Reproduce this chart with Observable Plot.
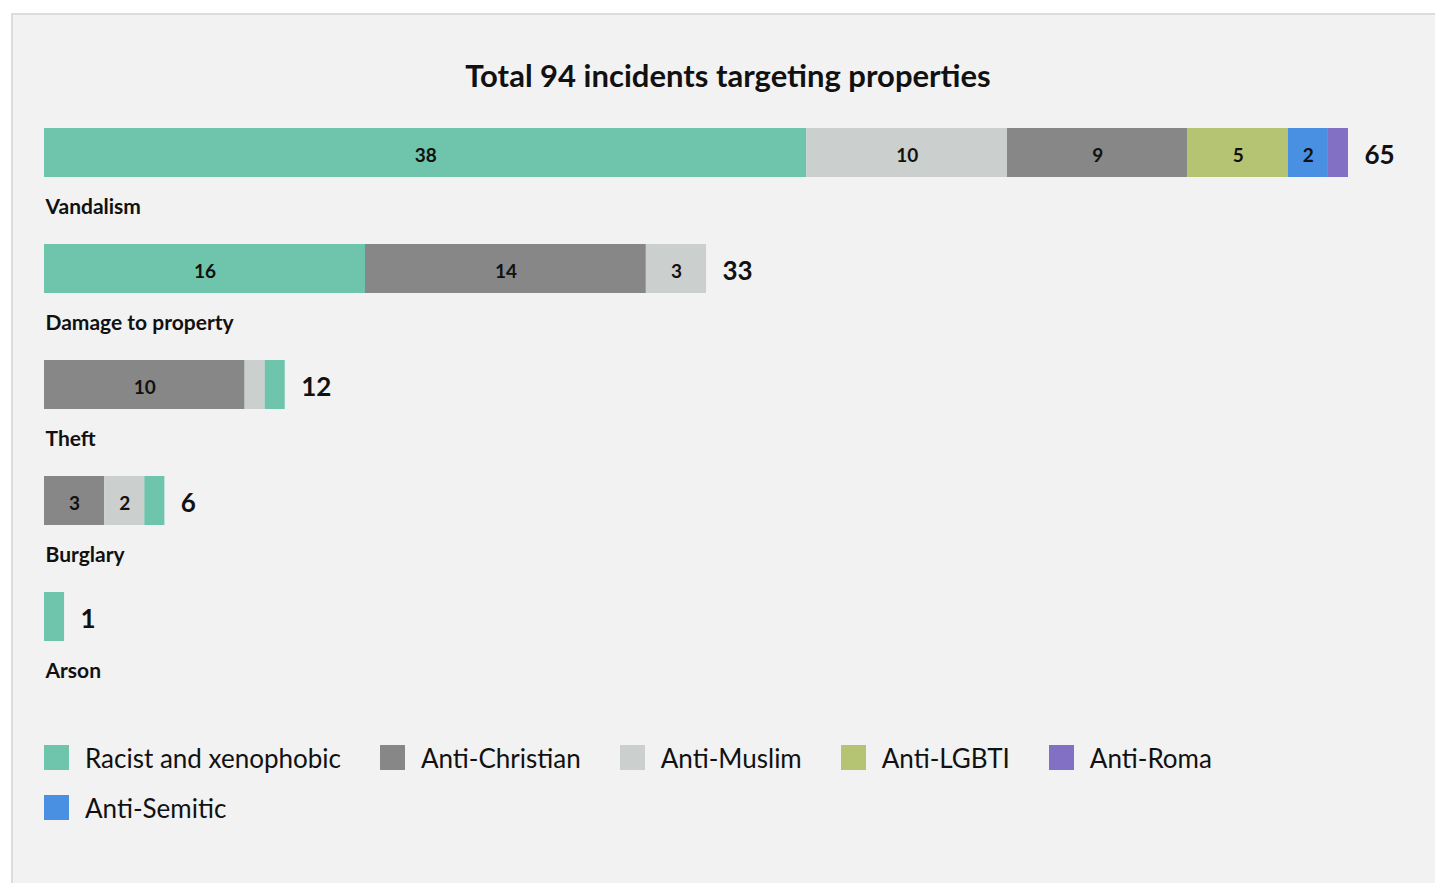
<!DOCTYPE html>
<html>
<head>
<meta charset="utf-8">
<script src="https://cdn.jsdelivr.net/npm/d3@7"></script>
<script src="https://cdn.jsdelivr.net/npm/@observablehq/plot@0.6"></script>
<style>
  html, body { margin: 0; padding: 0; background: #ffffff; width: 1435px; height: 883px; overflow: hidden; font-family: Lato, "Noto Sans", sans-serif; }
  #panel { position: absolute; left: 11px; top: 13px; width: 1440px; height: 890px; background: #f2f2f2; border-left: 2px solid #dcdcdc; border-top: 2px solid #dcdcdc; }
  #title { position: absolute; left: 13px; width: 1430px; top: 55px; text-align: center; font-size: 31px; font-weight: 700; color: #111; line-height: 40px; }
  #chart { position: absolute; left: 0; top: 100px; }
  #legend { position: absolute; left: 44px; top: 740px; width: 1190px; display: flex; flex-wrap: wrap; column-gap: 39px; row-gap: 15px; }
  .item { display: flex; align-items: center; height: 35px; font-size: 26px; color: #111; }
  .sw { width: 25px; height: 25px; margin-right: 16px; }
</style>
</head>
<body>
<div id="panel"></div>
<div id="title">Total 94 incidents targeting properties</div>
<div id="chart"></div>
<div id="legend"></div>
<script>
const categories = ["Vandalism", "Damage to property", "Theft", "Burglary", "Arson"];
const series = ["Racist and xenophobic", "Anti-Christian", "Anti-Muslim", "Anti-LGBTI", "Anti-Roma", "Anti-Semitic"];
const colors = ["#6fc5ac", "#878787", "#cbcfce", "#b4c472", "#8270c4", "#4a90e2"];
// values per series, in category order
const racist    = [38, 16, 1, 1, 1];
const christian = [9, 14, 10, 3, 0];
const muslim    = [10, 3, 1, 2, 0];
const lgbti     = [5, 0, 0, 0, 0];
const roma      = [1, 0, 0, 0, 0];
const semitic   = [2, 0, 0, 0, 0];
// tie-break order when two segments in a bar have equal values
const tieOrder = ["Anti-Christian", "Anti-Muslim", "Anti-LGBTI", "Anti-Semitic", "Anti-Roma", "Racist and xenophobic"];

const seriesValues = [racist, christian, muslim, lgbti, roma, semitic];
let rows = [];
categories.forEach((c, ci) => {
  const r = [];
  series.forEach((s, si) => {
    const v = seriesValues[si][ci];
    if (v > 0) r.push({category: c, series: s, value: v});
  });
  r.sort((a, b) => (b.value - a.value) || (tieOrder.indexOf(a.series) - tieOrder.indexOf(b.series)));
  rows = rows.concat(r);
});
const totals = categories.map(c => ({category: c, total: d3.sum(rows.filter(r => r.category === c), r => r.value)}));

const chart = Plot.plot({
  width: 1435,
  height: 600,
  marginLeft: 44,
  marginRight: 87,
  marginTop: 0,
  marginBottom: 0,
  style: {background: "transparent", fontFamily: "Lato, 'Noto Sans', sans-serif", color: "#111"},
  x: {domain: [0, 65], axis: null},
  y: {domain: categories, range: [28, 543], paddingInner: 0.5794, paddingOuter: 0, align: 0, axis: null},
  color: {domain: series, range: colors},
  marks: [
    Plot.barX(rows, Plot.stackX({x: "value", y: "category", fill: "series", order: null})),
    Plot.text(rows, Plot.stackX({x: "value", y: "category", order: null, dy: 2.5,
      text: d => d.value >= 2 ? d.value : "", fontSize: 19, fontWeight: 700, fill: "#111"})),
    Plot.text(totals, {x: "total", y: "category", text: "total", textAnchor: "start", dx: 16, dy: 3, fontSize: 26, fontWeight: 700, fill: "#111"}),
    Plot.text(categories, {x: () => 0, y: d => d, text: d => d, textAnchor: "start", dx: 1, dy: 54.5, fontSize: 21, fontWeight: 700, fill: "#111"})
  ]
});
document.getElementById("chart").appendChild(chart);

const legend = document.getElementById("legend");
series.forEach((s, i) => {
  const it = document.createElement("div");
  it.className = "item";
  const sw = document.createElement("div");
  sw.className = "sw";
  sw.style.background = colors[i];
  it.appendChild(sw);
  const t = document.createElement("span");
  t.textContent = s;
  it.appendChild(t);
  legend.appendChild(it);
});
</script>
</body>
</html>
